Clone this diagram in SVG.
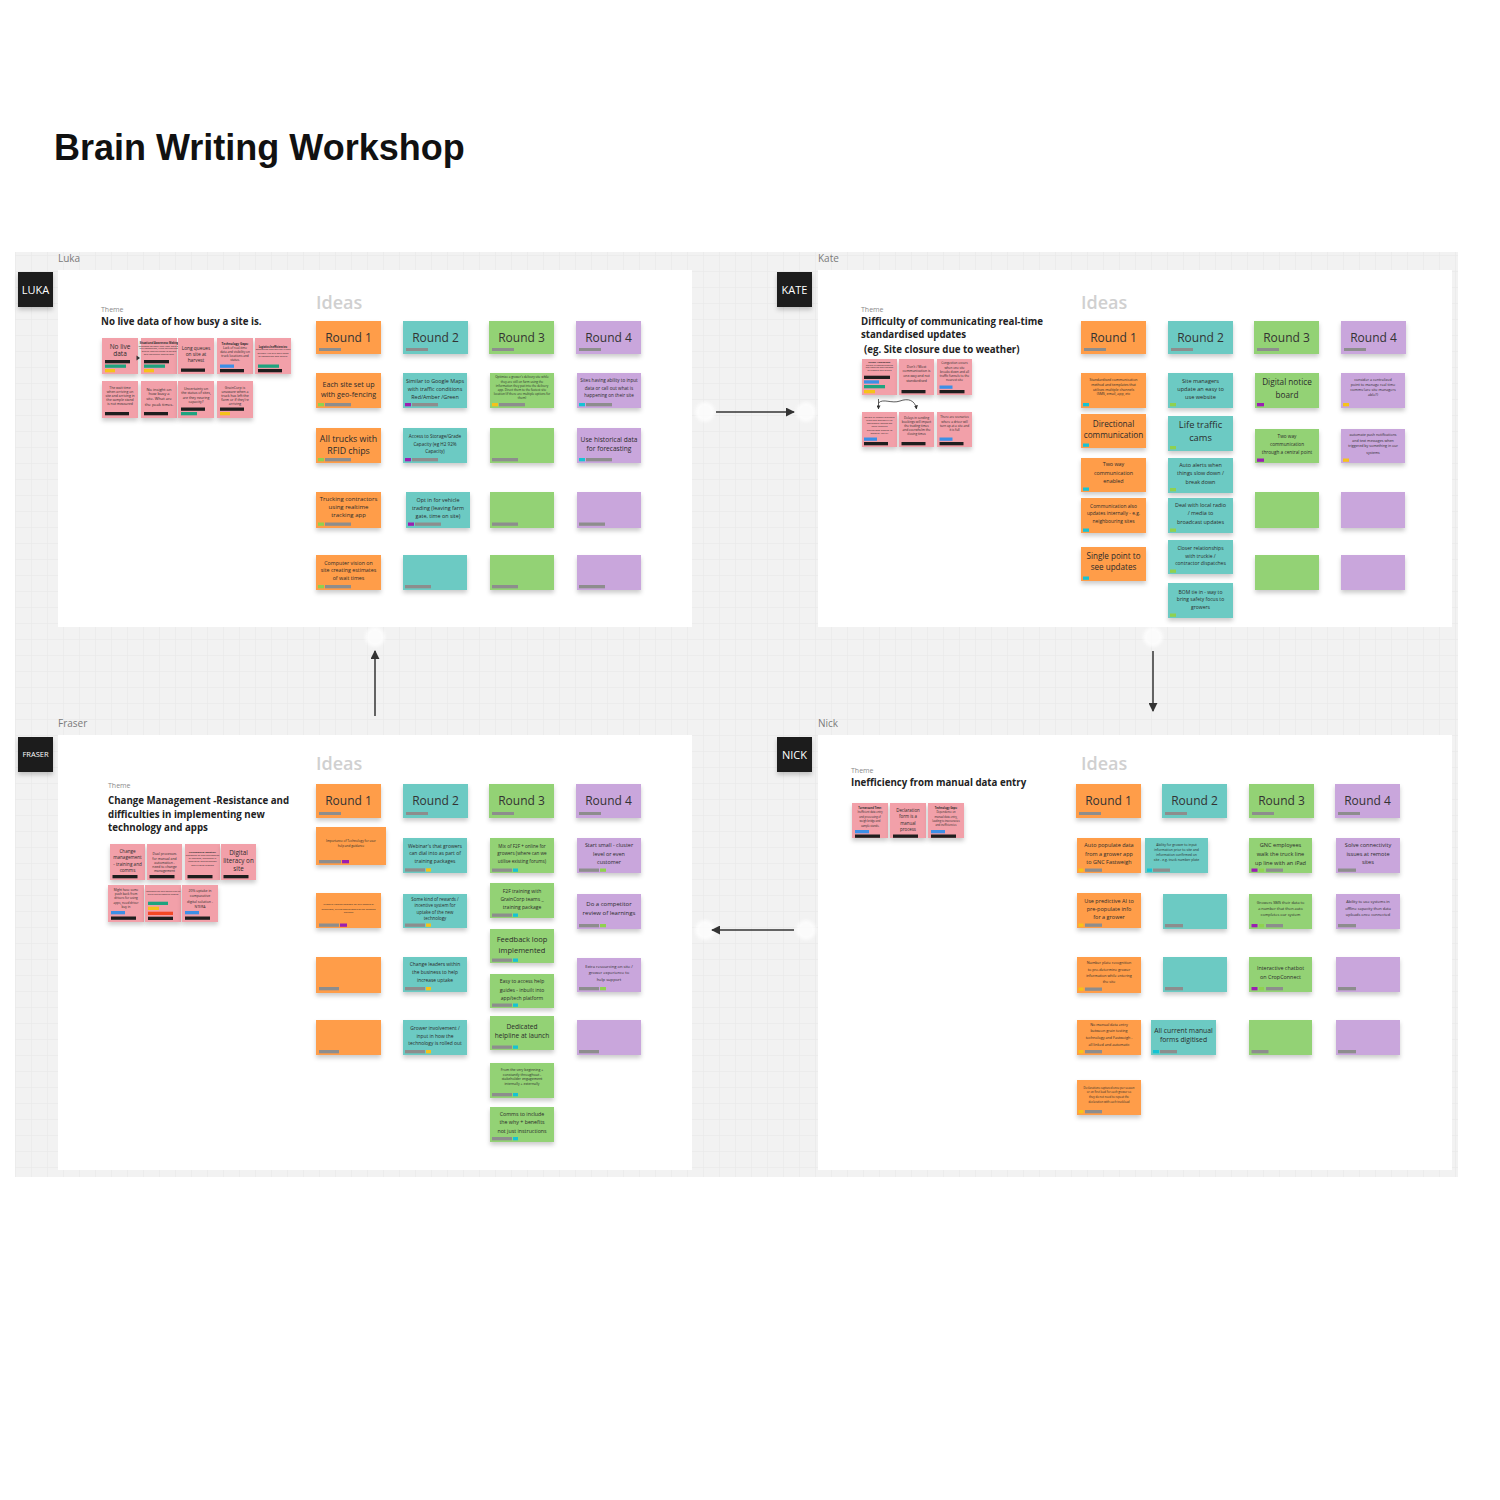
<svg xmlns="http://www.w3.org/2000/svg" width="1500" height="1500" viewBox="0 0 1500 1500">
<defs>
<style>
.fr{fill:#fff}
.s{filter:url(#sh)}
.o{fill:#ff9d48}.c{fill:#6ccac3}.g{fill:#93d275}.p{fill:#c9a6dc}.k{fill:#f2a0a9}
.t{font-family:"Open Sans","Liberation Sans",sans-serif;fill:#2b2b2b;text-anchor:middle}
.hd{font-size:12px;fill:#333}
.b{font-weight:bold}
.gb{fill:#8d8d8d}.bk{fill:#1e1e1e}.bl{fill:#3d8fe6}.gr{fill:#1fa37f}.ye{fill:#f6c21a}.pu{fill:#9b1fb1}.cy{fill:#16c3d3}.lg{fill:#8fd14f}.rd{fill:#f24726}
.lbl{font-family:"Open Sans","Liberation Sans",sans-serif;font-size:10px;fill:#7a7a7a}
.ideas{font-family:"Open Sans","Liberation Sans",sans-serif;font-size:18px;font-weight:600;fill:#d0d0d0}
.th{font-family:"Open Sans","Liberation Sans",sans-serif;font-size:7px;fill:#8a8a8a}
.tt{font-family:"Open Sans","Liberation Sans",sans-serif;font-size:9.7px;font-weight:bold;fill:#222}
.tag{fill:#1e1e1e}
.tagt{font-family:"Open Sans","Liberation Sans",sans-serif;fill:#fff;text-anchor:middle}
.cn{stroke:#333;stroke-width:1.5;fill:none}
.hc{fill:#fff;opacity:0.75;filter:url(#bl)}
</style>
<filter id="sh" x="-20%" y="-20%" width="140%" height="170%"><feDropShadow dx="0" dy="3" stdDeviation="2" flood-color="#000" flood-opacity="0.2"/></filter>
<filter id="bl" x="-50%" y="-50%" width="200%" height="200%"><feGaussianBlur stdDeviation="1.5"/></filter>
<marker id="ah" viewBox="0 0 10 10" refX="9" refY="5" markerWidth="6" markerHeight="6" orient="auto-start-reverse"><path d="M0,0 L10,5 L0,10 z" fill="#333"/></marker>
<marker id="ahs" viewBox="0 0 10 10" refX="9" refY="5" markerWidth="5" markerHeight="5" orient="auto"><path d="M0,0 L10,5 L0,10 z" fill="#333"/></marker>
<pattern id="grid" width="16" height="16" patternUnits="userSpaceOnUse"><path d="M16 0V16M0 16H16" stroke="#e7e7e7" stroke-width="1" fill="none"/></pattern>
</defs>
<rect width="1500" height="1500" fill="#fff"/>
<text x="54" y="160" font-family="Liberation Sans, Arial, sans-serif" font-weight="bold" font-size="36" fill="#111">Brain Writing Workshop</text>
<rect x="15" y="252" width="1443" height="925" fill="#f2f2f2"/>
<rect x="15" y="252" width="1443" height="925" fill="url(#grid)"/>

<!-- LUKA -->
<g id="luka">
<text class="lbl" x="58" y="262">Luka</text>
<rect class="fr" x="58" y="270" width="634" height="357"/>
<g id="luka-tag"><rect class="tag s" x="18" y="272" width="35" height="35"/><text class="tagt" x="35.5" y="293.5" font-size="11">LUKA</text></g>
<g id="luka-theme"><text class="th" x="101" y="312">Theme</text><text class="tt" x="101" y="325">No live data of how busy a site is.</text></g>
<g id="luka-p1"><rect class="k s" x="102" y="338" width="36" height="36"/><text class="t" font-size="6.5"><tspan x="120" y="349">No live</tspan><tspan x="120" y="356">data</tspan></text><rect class="bk" x="105" y="360" width="25" height="3.3"/><rect class="gr" x="105" y="364.5" width="21" height="3.3"/><rect class="ye" x="105" y="369" width="10" height="3.3"/></g>
<path d="M136.5,355.5 L140,358 L136.5,360.5z" fill="#333"/>
<g id="luka-p2"><rect class="k s" x="141" y="338" width="36" height="36"/><text class="t" font-size="2.5"><tspan class="b" x="159" y="343.5">Situational Awareness: Making</tspan><tspan x="159" y="346.5">decisions without real-time data on</tspan><tspan x="159" y="349.3">site congestion, truck arrivals and</tspan><tspan x="159" y="352">queue lengths leads to delays</tspan><tspan x="159" y="355">and inefficient operations.</tspan></text><rect class="bk" x="144" y="360" width="25" height="3.3"/><rect class="gr" x="144" y="364.5" width="21" height="3.3"/><rect class="ye" x="144" y="369" width="10" height="3.3"/></g>
<g id="luka-p3"><rect class="k s" x="178" y="338" width="36" height="36"/><text class="t" font-size="4.8"><tspan x="196" y="349.5">Long queues</tspan><tspan x="196" y="355.5">on site at</tspan><tspan x="196" y="361.5">harvest</tspan></text><rect class="bk" x="181" y="368.5" width="24" height="3.3"/></g>
<g id="luka-p4"><rect class="k s" x="217" y="338" width="36" height="36"/><text class="t" font-size="3.1"><tspan class="b" x="235" y="344.5">Technology Gaps:</tspan><tspan x="235" y="348.8">Lack of real-time</tspan><tspan x="235" y="352.8">data and visibility on</tspan><tspan x="235" y="357">truck locations and</tspan><tspan x="235" y="361">status.</tspan></text><rect class="bl" x="220" y="364.5" width="14" height="3.3"/><rect class="bk" x="220" y="369" width="24" height="3.3"/></g>
<g id="luka-p5"><rect class="k s" x="255" y="338" width="36" height="36"/><text class="t" font-size="2.5"><tspan class="b" x="273" y="347.5">Logistics Inefficiencies:</tspan><tspan x="273" y="350.3">Scheduling and routing trucks</tspan><tspan x="273" y="353.5">without live site data leads</tspan><tspan x="273" y="356.7">to congestion and delays.</tspan></text><rect class="gr" x="258" y="364.5" width="21" height="3.3"/><rect class="bk" x="258" y="369" width="24" height="3.3"/></g>
<g id="luka-q1"><rect class="k s" x="102" y="381" width="36" height="37"/><text class="t" font-size="3.4"><tspan x="120" y="389">The wait time</tspan><tspan x="120" y="393">when arriving on</tspan><tspan x="120" y="397.2">site and arriving in</tspan><tspan x="120" y="401.2">the sample stand</tspan><tspan x="120" y="405.2">is not measured</tspan></text><rect class="bk" x="105" y="412" width="24" height="3.3"/></g>
<g id="luka-q2"><rect class="k s" x="141" y="381" width="36" height="37"/><text class="t" font-size="4"><tspan x="159" y="390.7">No insight on</tspan><tspan x="159" y="395.4">how busy a</tspan><tspan x="159" y="400.4">site. What are</tspan><tspan x="159" y="405.7">the peak times.</tspan></text><rect class="bk" x="144" y="412" width="24" height="3.3"/></g>
<g id="luka-q3"><rect class="k s" x="178" y="381" width="36" height="37"/><text class="t" font-size="3.5"><tspan x="196" y="389.5">Uncertainty on</tspan><tspan x="196" y="394">the status of sites,</tspan><tspan x="196" y="398.5">are they nearing</tspan><tspan x="196" y="403">capacity?</tspan></text><rect class="bk" x="181" y="407.5" width="24" height="3.3"/><rect class="gr" x="181" y="412" width="16" height="3.3"/></g>
<g id="luka-q4"><rect class="k s" x="217" y="381" width="36" height="37"/><text class="t" font-size="3.5"><tspan x="235" y="388.5">GrainCorp is</tspan><tspan x="235" y="392.9">unaware when a</tspan><tspan x="235" y="396.9">truck has left the</tspan><tspan x="235" y="400.5">farm or if they're</tspan><tspan x="235" y="404.5">arriving</tspan></text><rect class="bk" x="220" y="407.5" width="24" height="3.3"/><rect class="ye" x="220" y="412" width="10" height="3.3"/></g>

<text class="ideas" x="316" y="309">Ideas</text>
<g id="luka-h1"><rect class="o s" x="316" y="321" width="65" height="33"/><text class="t hd" x="348.5" y="342">Round 1</text><rect class="gb" x="319" y="348" width="22" height="3"/></g>
<g id="luka-h2"><rect class="c s" x="403" y="321" width="65" height="33"/><text class="t hd" x="435.5" y="342">Round 2</text><rect class="gb" x="406" y="348" width="22" height="3"/></g>
<g id="luka-h3"><rect class="g s" x="489" y="321" width="65" height="33"/><text class="t hd" x="521.5" y="342">Round 3</text><rect class="gb" x="492" y="348" width="22" height="3"/></g>
<g id="luka-h4"><rect class="p s" x="576" y="321" width="65" height="33"/><text class="t hd" x="608.5" y="342">Round 4</text><rect class="gb" x="579" y="348" width="22" height="3"/></g>

<g id="luka-r1-1"><rect class="o s" x="316" y="373" width="65" height="35"/><text class="t" font-size="7.2"><tspan x="348.5" y="386.5">Each site set up</tspan><tspan x="348.5" y="396.5">with geo-fencing</tspan></text><rect class="lg" x="318" y="403" width="6" height="3.3"/><rect class="gb" x="325" y="403" width="26" height="3.3"/></g>
<g id="luka-r1-2"><rect class="o s" x="316" y="428" width="65" height="35"/><text class="t" font-size="8.8"><tspan x="348.5" y="441.5">All trucks with</tspan><tspan x="348.5" y="453.5">RFID chips</tspan></text><rect class="lg" x="318" y="458" width="6" height="3.3"/><rect class="gb" x="325" y="458" width="26" height="3.3"/></g>
<g id="luka-r1-3"><rect class="o s" x="316" y="492" width="65" height="36"/><text class="t" font-size="6"><tspan x="348.5" y="501.2">Trucking contractors</tspan><tspan x="348.5" y="509">using realtime</tspan><tspan x="348.5" y="517">tracking app</tspan></text><rect class="lg" x="318" y="522.5" width="6" height="3.3"/><rect class="gb" x="325" y="522.5" width="26" height="3.3"/></g>
<g id="luka-r1-4"><rect class="o s" x="316" y="555" width="65" height="35"/><text class="t" font-size="5.3"><tspan x="348.5" y="564.8">Computer vision on</tspan><tspan x="348.5" y="572.2">site creating estimates</tspan><tspan x="348.5" y="579.6">of wait times</tspan></text><rect class="lg" x="318" y="585" width="6" height="3.3"/><rect class="gb" x="325" y="585" width="26" height="3.3"/></g>

<g id="luka-r2-1"><rect class="c s" x="403" y="373" width="64" height="35"/><text class="t" font-size="5.4"><tspan x="435" y="382.8">Similar to Google Maps</tspan><tspan x="435" y="391">with traffic conditions</tspan><tspan x="435" y="398.8">Red/Amber /Green</tspan></text><rect class="pu" x="405" y="403" width="6" height="3.3"/><rect class="gb" x="412" y="403" width="26" height="3.3"/></g>
<g id="luka-r2-2"><rect class="c s" x="403" y="428" width="64" height="35"/><text class="t" font-size="4.6"><tspan x="435" y="438.3">Access to Storage/Grade</tspan><tspan x="435" y="445.9">Capacity (eg H2 92%</tspan><tspan x="435" y="453">Capacity)</tspan></text><rect class="pu" x="405" y="458" width="6" height="3.3"/><rect class="gb" x="412" y="458" width="26" height="3.3"/></g>
<g id="luka-r2-3"><rect class="c s" x="406" y="492" width="64" height="36"/><text class="t" font-size="5.4"><tspan x="438" y="502">Opt in for vehicle</tspan><tspan x="438" y="509.7">trading (leaving farm</tspan><tspan x="438" y="517.5">gate, time on site)</tspan></text><rect class="pu" x="408" y="522.5" width="6" height="3.3"/><rect class="gb" x="415" y="522.5" width="26" height="3.3"/></g>
<g id="luka-r2-4"><rect class="c s" x="403" y="555" width="64" height="35"/><rect class="gb" x="405" y="585" width="26" height="3.3"/></g>

<g id="luka-r3-1"><rect class="g s" x="490" y="373" width="64" height="35"/><text class="t" font-size="3"><tspan x="522" y="378.3">Optimize a grower's delivery site while</tspan><tspan x="522" y="382.5">they are still on farm using the</tspan><tspan x="522" y="386.7">information they put into the delivery</tspan><tspan x="522" y="390.9">app. Direct them to the fastest site</tspan><tspan x="522" y="395.1">location (if there are multiple options for</tspan><tspan x="522" y="399.3">them)</tspan></text><rect class="ye" x="492" y="403" width="6" height="3.3"/><rect class="gb" x="499" y="403" width="26" height="3.3"/></g>
<g id="luka-r3-2"><rect class="g s" x="490" y="428" width="64" height="35"/><rect class="gb" x="492" y="458" width="26" height="3.3"/></g>
<g id="luka-r3-3"><rect class="g s" x="490" y="492" width="64" height="36"/><rect class="gb" x="492" y="522.5" width="26" height="3.3"/></g>
<g id="luka-r3-4"><rect class="g s" x="490" y="555" width="64" height="35"/><rect class="gb" x="492" y="585" width="26" height="3.3"/></g>

<g id="luka-r4-1"><rect class="p s" x="577" y="373" width="64" height="35"/><text class="t" font-size="4.6"><tspan x="609" y="382.4">Sites having ability to input</tspan><tspan x="609" y="390">data or call out what is</tspan><tspan x="609" y="397.4">happening on their site</tspan></text><rect class="cy" x="579" y="403" width="6" height="3.3"/><rect class="gb" x="586" y="403" width="26" height="3.3"/></g>
<g id="luka-r4-2"><rect class="p s" x="577" y="428" width="64" height="35"/><text class="t" font-size="6.6"><tspan x="609" y="442.4">Use historical data</tspan><tspan x="609" y="450.7">for forecasting</tspan></text><rect class="cy" x="579" y="458" width="6" height="3.3"/><rect class="gb" x="586" y="458" width="26" height="3.3"/></g>
<g id="luka-r4-3"><rect class="p s" x="577" y="492" width="64" height="36"/><rect class="gb" x="579" y="522.5" width="26" height="3.3"/></g>
<g id="luka-r4-4"><rect class="p s" x="577" y="555" width="64" height="35"/><rect class="gb" x="579" y="585" width="26" height="3.3"/></g>
</g>

<!-- KATE -->
<g id="kate">
<text class="lbl" x="818" y="262">Kate</text>
<rect class="fr" x="818" y="270" width="634" height="357"/>
<g id="kate-tag"><rect class="tag s" x="777" y="272" width="35" height="35"/><text class="tagt" x="794.5" y="293.5" font-size="11">KATE</text></g>
<g id="kate-theme"><text class="th" x="861" y="312">Theme</text><text class="tt" x="861" y="324.5">Difficulty of communicating real-time</text><text class="tt" x="861" y="338">standardised updates</text><text class="tt" x="864" y="352.5">(eg. Site closure due to weather)</text></g>
<g id="kate-p1"><rect class="k s" x="862" y="359" width="35" height="36"/><text class="t" font-size="2.3"><tspan class="b" x="879.5" y="363">Sender Admissions:</tspan><tspan x="879.5" y="365.7">Delays in communicating</tspan><tspan x="879.5" y="368.4">site closures and changes</tspan><tspan x="879.5" y="371.4">to growers and drivers</tspan></text><rect class="bk" x="864" y="375.7" width="26" height="3.3"/><rect class="bl" x="864" y="380.3" width="15" height="3.3"/><rect class="gr" x="864" y="385" width="21" height="3.3"/><rect class="ye" x="864" y="390" width="11" height="3.3"/></g>
<g id="kate-p2"><rect class="k s" x="899" y="359" width="35" height="36"/><text class="t" font-size="3.4"><tspan x="916.5" y="368">Don't / Most</tspan><tspan x="916.5" y="372.2">communication is</tspan><tspan x="916.5" y="376.9">one-way and not</tspan><tspan x="916.5" y="382.2">standardised</tspan></text><rect class="bk" x="901.5" y="390" width="24" height="3.3"/></g>
<g id="kate-p3"><rect class="k s" x="937" y="359" width="35" height="36"/><text class="t" font-size="3.1"><tspan x="954.5" y="364.4">Congestion occurs</tspan><tspan x="954.5" y="368.6">when one site</tspan><tspan x="954.5" y="372.8">breaks down and all</tspan><tspan x="954.5" y="377">traffic funnels to the</tspan><tspan x="954.5" y="381.2">nearest site</tspan></text><rect class="bl" x="939.5" y="385.5" width="13" height="3.3"/><rect class="bk" x="939.5" y="390" width="25" height="3.3"/></g>
<g id="kate-p4"><rect class="k s" x="862" y="412" width="35" height="35"/><text class="t" font-size="2.5"><tspan x="879.5" y="417.5">Delays in finding alternate</tspan><tspan x="879.5" y="420.8">sites and availability of</tspan><tspan x="879.5" y="424.1">equipment means we</tspan><tspan x="879.5" y="427.4">have updated</tspan><tspan x="879.5" y="430.7">disruptions leading to</tspan><tspan x="879.5" y="434">loads or 'fee by'</tspan></text><rect class="bl" x="864" y="437.5" width="13" height="3.3"/><rect class="bk" x="864" y="442" width="24" height="3.3"/></g>
<g id="kate-p5"><rect class="k s" x="899" y="412" width="35" height="35"/><text class="t" font-size="3.1"><tspan x="916.5" y="419.4">Delays in sending</tspan><tspan x="916.5" y="423.2">bookings will impact</tspan><tspan x="916.5" y="427">the trading times</tspan><tspan x="916.5" y="430.8">and overwhelm the</tspan><tspan x="916.5" y="434.6">closing times</tspan></text><rect class="bk" x="901.5" y="442" width="24" height="3.3"/></g>
<g id="kate-p6"><rect class="k s" x="937" y="412" width="35" height="35"/><text class="t" font-size="3.1"><tspan x="954.5" y="418.4">There are scenarios</tspan><tspan x="954.5" y="422.7">where a driver will</tspan><tspan x="954.5" y="427">turn up at a site and</tspan><tspan x="954.5" y="431">it is full</tspan></text><rect class="bl" x="939.5" y="437.5" width="13" height="3.3"/><rect class="bk" x="939.5" y="442" width="24" height="3.3"/></g>
<path d="M878.5,399 V409" stroke="#333" stroke-width="0.8" fill="none" marker-end="url(#ahs)"/>
<path d="M878.5,403 C883,398 892,404 900,401 C908,398 915,400 916.5,409" stroke="#333" stroke-width="0.8" fill="none" marker-end="url(#ahs)"/>

<text class="ideas" x="1081" y="309">Ideas</text>
<g id="kate-h1"><rect class="o s" x="1081" y="321" width="65" height="33"/><text class="t hd" x="1113.5" y="342">Round 1</text><rect class="gb" x="1084" y="348" width="22" height="3"/></g>
<g id="kate-h2"><rect class="c s" x="1168" y="321" width="65" height="33"/><text class="t hd" x="1200.5" y="342">Round 2</text><rect class="gb" x="1171" y="348" width="22" height="3"/></g>
<g id="kate-h3"><rect class="g s" x="1254" y="321" width="65" height="33"/><text class="t hd" x="1286.5" y="342">Round 3</text><rect class="gb" x="1257" y="348" width="22" height="3"/></g>
<g id="kate-h4"><rect class="p s" x="1341" y="321" width="65" height="33"/><text class="t hd" x="1373.5" y="342">Round 4</text><rect class="gb" x="1344" y="348" width="22" height="3"/></g>

<g id="kate-r1-1"><rect class="o s" x="1081" y="373" width="65" height="35"/><text class="t" font-size="3.5"><tspan x="1113.5" y="381.2">Standardised communication</tspan><tspan x="1113.5" y="386.2">method and templates that</tspan><tspan x="1113.5" y="390.5">utilises multiple channels</tspan><tspan x="1113.5" y="395.2">(SMS, email, app, etc</tspan></text><rect class="cy" x="1083" y="403" width="6" height="3.3"/></g>
<g id="kate-r1-2"><rect class="o s" x="1081" y="414" width="65" height="34"/><text class="t" font-size="8.2"><tspan x="1113.5" y="427">Directional</tspan><tspan x="1113.5" y="438">communication</tspan></text><rect class="cy" x="1083" y="443.5" width="6" height="3.3"/></g>
<g id="kate-r1-3"><rect class="o s" x="1081" y="458" width="65" height="34"/><text class="t" font-size="5.4"><tspan x="1113.5" y="466">Two way</tspan><tspan x="1113.5" y="474.7">communication</tspan><tspan x="1113.5" y="483">enabled</tspan></text><rect class="cy" x="1083" y="487.5" width="6" height="3.3"/></g>
<g id="kate-r1-4"><rect class="o s" x="1081" y="498" width="65" height="35"/><text class="t" font-size="4.9"><tspan x="1113.5" y="507.8">Communication also</tspan><tspan x="1113.5" y="515.2">updates internally - e.g.</tspan><tspan x="1113.5" y="522.8">neighbouring sites</tspan></text><rect class="cy" x="1083" y="528.5" width="6" height="3.3"/></g>
<g id="kate-r1-5"><rect class="o s" x="1081" y="547" width="65" height="34"/><text class="t" font-size="8.1"><tspan x="1113.5" y="559">Single point to</tspan><tspan x="1113.5" y="570.3">see updates</tspan></text><rect class="cy" x="1083" y="576.5" width="6" height="3.3"/></g>

<g id="kate-r2-1"><rect class="c s" x="1168" y="373" width="65" height="35"/><text class="t" font-size="5.6"><tspan x="1200.5" y="382.7">Site managers</tspan><tspan x="1200.5" y="391">update an easy to</tspan><tspan x="1200.5" y="398.7">use website</tspan></text><rect class="lg" x="1170" y="403" width="6" height="3.3"/></g>
<g id="kate-r2-2"><rect class="c s" x="1168" y="416" width="65" height="35"/><text class="t" font-size="9.3"><tspan x="1200.5" y="427.5">Life traffic</tspan><tspan x="1200.5" y="441">cams</tspan></text><rect class="lg" x="1170" y="446" width="6" height="3.3"/></g>
<g id="kate-r2-3"><rect class="c s" x="1168" y="458" width="65" height="35"/><text class="t" font-size="5.4"><tspan x="1200.5" y="467">Auto alerts when</tspan><tspan x="1200.5" y="475.3">things slow down /</tspan><tspan x="1200.5" y="484">break down</tspan></text><rect class="lg" x="1170" y="488" width="6" height="3.3"/></g>
<g id="kate-r2-4"><rect class="c s" x="1168" y="498" width="65" height="35"/><text class="t" font-size="5.4"><tspan x="1200.5" y="507">Deal with local radio</tspan><tspan x="1200.5" y="515.3">/ media to</tspan><tspan x="1200.5" y="523.7">broadcast updates</tspan></text><rect class="lg" x="1170" y="528.5" width="6" height="3.3"/></g>
<g id="kate-r2-5"><rect class="c s" x="1168" y="540" width="65" height="34"/><text class="t" font-size="5"><tspan x="1200.5" y="549.5">Closer relationships</tspan><tspan x="1200.5" y="557.5">with truckie /</tspan><tspan x="1200.5" y="565">contractor dispatches</tspan></text><rect class="lg" x="1170" y="569.5" width="6" height="3.3"/></g>
<g id="kate-r2-6"><rect class="c s" x="1168" y="583" width="65" height="35"/><text class="t" font-size="5"><tspan x="1200.5" y="593.5">BOM tie in - way to</tspan><tspan x="1200.5" y="601">bring safety focus to</tspan><tspan x="1200.5" y="609">growers</tspan></text><rect class="lg" x="1170" y="613.5" width="6" height="3.3"/></g>

<g id="kate-r3-1"><rect class="g s" x="1255" y="373" width="64" height="35"/><text class="t" font-size="8.2"><tspan x="1287" y="384.7">Digital notice</tspan><tspan x="1287" y="398">board</tspan></text><rect class="pu" x="1257" y="403" width="7" height="3.3"/></g>
<g id="kate-r3-2"><rect class="g s" x="1255" y="429" width="64" height="34"/><text class="t" font-size="4.7"><tspan x="1287" y="437.8">Two way</tspan><tspan x="1287" y="446">communication</tspan><tspan x="1287" y="453.5">through a central point</tspan></text><rect class="pu" x="1257" y="458.5" width="7" height="3.3"/></g>
<g id="kate-r3-3"><rect class="g s" x="1255" y="492" width="64" height="36"/></g>
<g id="kate-r3-4"><rect class="g s" x="1255" y="555" width="64" height="35"/></g>

<g id="kate-r4-1"><rect class="p s" x="1341" y="373" width="64" height="35"/><text class="t" font-size="3.7"><tspan x="1373" y="380.6">consider a centralized</tspan><tspan x="1373" y="386.3">point to manage real time</tspan><tspan x="1373" y="391.3">comms (are site managers</tspan><tspan x="1373" y="396.3">able?)</tspan></text><rect class="ye" x="1343" y="403" width="6" height="3.3"/></g>
<g id="kate-r4-2"><rect class="p s" x="1341" y="429" width="64" height="34"/><text class="t" font-size="3.6"><tspan x="1373" y="436.3">automate push notifications</tspan><tspan x="1373" y="442">and text messages when</tspan><tspan x="1373" y="447.3">triggered by something in our</tspan><tspan x="1373" y="453.6">systems</tspan></text><rect class="ye" x="1343" y="458.5" width="6" height="3.3"/></g>
<g id="kate-r4-3"><rect class="p s" x="1341" y="492" width="64" height="36"/></g>
<g id="kate-r4-4"><rect class="p s" x="1341" y="555" width="64" height="35"/></g>
</g>

<!-- FRASER -->
<g id="fraser">
<text class="lbl" x="58" y="727">Fraser</text>
<rect class="fr" x="58" y="735" width="634" height="435"/>
<g id="fraser-tag"><rect class="tag s" x="18" y="737" width="35" height="35"/><text class="tagt" x="35.5" y="757" font-size="7.5">FRASER</text></g>
<g id="fraser-theme"><text class="th" x="108" y="788">Theme</text><text class="tt" x="108" y="803.5">Change Management -Resistance and</text><text class="tt" x="108" y="817.5">difficulties in implementing new</text><text class="tt" x="108" y="831">technology and apps</text></g>
<g id="fraser-p1"><rect class="k s" x="110" y="844" width="35" height="36"/><text class="t" font-size="4.6"><tspan x="127.5" y="852.7">Change</tspan><tspan x="127.5" y="858.5">management</tspan><tspan x="127.5" y="865.5">- training and</tspan><tspan x="127.5" y="871.6">comms</tspan></text><rect class="bk" x="112.5" y="875" width="25" height="3.3"/></g>
<g id="fraser-p2"><rect class="k s" x="147" y="844" width="35" height="36"/><text class="t" font-size="3.4"><tspan x="164.5" y="855.2">Dual processes</tspan><tspan x="164.5" y="859.5">for manual and</tspan><tspan x="164.5" y="863.5">automation -</tspan><tspan x="164.5" y="867.9">need to change</tspan><tspan x="164.5" y="872.2">management</tspan></text><rect class="bk" x="149.5" y="875" width="25" height="3.3"/></g>
<g id="fraser-p3"><rect class="k s" x="185" y="844" width="35" height="36"/><text class="t" font-size="2.3"><tspan class="b" x="202.5" y="853">Technological adoption:</tspan><tspan x="202.5" y="855.8">Resistance to new technologies</tspan><tspan x="202.5" y="859">or methods, challenges in</tspan><tspan x="202.5" y="862.4">integrating new technology</tspan><tspan x="202.5" y="865.7">with existing systems</tspan></text><rect class="bk" x="187.5" y="875" width="25" height="3.3"/></g>
<g id="fraser-p4"><rect class="k s" x="221" y="844" width="35" height="36"/><text class="t" font-size="6.3"><tspan x="238.5" y="854.5">Digital</tspan><tspan x="238.5" y="863">literacy on</tspan><tspan x="238.5" y="871.3">site</tspan></text><rect class="bk" x="223.5" y="875" width="25" height="3.3"/></g>
<g id="fraser-q1"><rect class="k s" x="108" y="885" width="36" height="37"/><text class="t" font-size="3.1"><tspan x="126" y="891">Might have some</tspan><tspan x="126" y="895">push back from</tspan><tspan x="126" y="899.3">drivers for using</tspan><tspan x="126" y="903.7">apps, need driver</tspan><tspan x="126" y="908.3">buy in</tspan></text><rect class="bl" x="111" y="911" width="14" height="3.3"/><rect class="bk" x="111" y="916.5" width="25" height="3.3"/></g>
<g id="fraser-q2"><rect class="k s" x="145" y="885" width="36" height="37"/><text class="t" font-size="2.2"><tspan x="163" y="892.4">Implementing data points such as</tspan><tspan x="163" y="895">digital and automated records</tspan></text><rect class="gr" x="148" y="901.7" width="20" height="3.3"/><rect class="ye" x="148" y="906.7" width="11" height="3.3"/><rect class="rd" x="148" y="911.7" width="25" height="3.3"/><rect class="bk" x="148" y="916.7" width="25" height="3.3"/></g>
<g id="fraser-q3"><rect class="k s" x="182" y="885" width="36" height="37"/><text class="t" font-size="3.5"><tspan x="200" y="892">20% uptake in</tspan><tspan x="200" y="897">comparative</tspan><tspan x="200" y="903">digital solution -</tspan><tspan x="200" y="908">NTERA</tspan></text><rect class="bl" x="185" y="911" width="14" height="3.3"/><rect class="bk" x="185" y="916.5" width="25" height="3.3"/></g>

<text class="ideas" x="316" y="770">Ideas</text>
<g id="fraser-h1"><rect class="o s" x="316" y="784" width="65" height="34"/><text class="t hd" x="348.5" y="805">Round 1</text><rect class="gb" x="319" y="812" width="22" height="3"/></g>
<g id="fraser-h2"><rect class="c s" x="403" y="784" width="65" height="34"/><text class="t hd" x="435.5" y="805">Round 2</text><rect class="gb" x="406" y="812" width="22" height="3"/></g>
<g id="fraser-h3"><rect class="g s" x="489" y="784" width="65" height="34"/><text class="t hd" x="521.5" y="805">Round 3</text><rect class="gb" x="492" y="812" width="22" height="3"/></g>
<g id="fraser-h4"><rect class="p s" x="576" y="784" width="65" height="34"/><text class="t hd" x="608.5" y="805">Round 4</text><rect class="gb" x="579" y="812" width="22" height="3"/></g>

<g id="fraser-r1-1"><rect class="o s" x="316" y="827" width="70" height="38"/><text class="t" font-size="3.1"><tspan x="351" y="842">Importance of Technology for user</tspan><tspan x="351" y="846.7">help and guidance</tspan></text><rect class="gb" x="319" y="860" width="22" height="3.3"/><rect class="pu" x="342" y="860" width="7" height="3.3"/></g>
<g id="fraser-r1-2"><rect class="o s" x="316" y="893" width="65" height="35"/><text class="t" font-size="2.5"><tspan x="348.5" y="905.2">In depth training package for site leaders at</tspan><tspan x="348.5" y="909.6">GrainCorp, critical operations staff on demand</tspan><tspan x="348.5" y="913.4">learning</tspan></text><rect class="gb" x="319" y="923.5" width="20" height="3.3"/><rect class="pu" x="340" y="923.5" width="7" height="3.3"/></g>
<g id="fraser-r1-3"><rect class="o s" x="316" y="957" width="65" height="36"/><rect class="gb" x="319" y="987" width="20" height="3.3"/></g>
<g id="fraser-r1-4"><rect class="o s" x="316" y="1020" width="65" height="35"/><rect class="gb" x="319" y="1050" width="20" height="3.3"/></g>

<g id="fraser-r2-1"><rect class="c s" x="403" y="838" width="64" height="35"/><text class="t" font-size="5"><tspan x="435" y="847.5">Webinar's that growers</tspan><tspan x="435" y="855">can dial into as part of</tspan><tspan x="435" y="862.5">training packages</tspan></text><rect class="gb" x="405" y="868.3" width="20" height="3.3"/><rect class="ye" x="426" y="868.3" width="5" height="3.3"/></g>
<g id="fraser-r2-2"><rect class="c s" x="403" y="894" width="64" height="34"/><text class="t" font-size="4.4"><tspan x="435" y="900.6">Some kind of rewards /</tspan><tspan x="435" y="907">incentive system for</tspan><tspan x="435" y="913.5">uptake of the new</tspan><tspan x="435" y="919.8">technology</tspan></text><rect class="gb" x="405" y="923.5" width="20" height="3.3"/><rect class="ye" x="426" y="923.5" width="5" height="3.3"/></g>
<g id="fraser-r2-3"><rect class="c s" x="403" y="957" width="64" height="35"/><text class="t" font-size="4.9"><tspan x="435" y="966">Change leaders within</tspan><tspan x="435" y="974">the business to help</tspan><tspan x="435" y="981.7">increase uptake</tspan></text><rect class="gb" x="405" y="987" width="20" height="3.3"/><rect class="ye" x="426" y="987" width="5" height="3.3"/></g>
<g id="fraser-r2-4"><rect class="c s" x="403" y="1020" width="64" height="35"/><text class="t" font-size="4.9"><tspan x="435" y="1029.5">Grower involvement /</tspan><tspan x="435" y="1037.5">input in how the</tspan><tspan x="435" y="1044.5">technology is rolled out</tspan></text><rect class="gb" x="405" y="1050" width="20" height="3.3"/><rect class="ye" x="426" y="1050" width="5" height="3.3"/></g>

<g id="fraser-r3-1"><rect class="g s" x="490" y="838" width="64" height="35"/><text class="t" font-size="4.6"><tspan x="522" y="847.5">Mix of F2F + online for</tspan><tspan x="522" y="855">growers (where can we</tspan><tspan x="522" y="862.7">utilise existing forums)</tspan></text><rect class="gb" x="492" y="868.5" width="20" height="3.3"/><rect class="cy" x="513" y="868.5" width="5" height="3.3"/></g>
<g id="fraser-r3-2"><rect class="g s" x="490" y="883" width="64" height="35"/><text class="t" font-size="5"><tspan x="522" y="892.5">F2F training with</tspan><tspan x="522" y="900.8">GrainCorp teams _</tspan><tspan x="522" y="909">training package</tspan></text><rect class="gb" x="492" y="913.5" width="20" height="3.3"/><rect class="cy" x="513" y="913.5" width="5" height="3.3"/></g>
<g id="fraser-r3-3"><rect class="g s" x="490" y="929" width="64" height="34"/><text class="t" font-size="7.5"><tspan x="522" y="942">Feedback loop</tspan><tspan x="522" y="952.7">implemented</tspan></text><rect class="gb" x="492" y="958.5" width="20" height="3.3"/><rect class="cy" x="513" y="958.5" width="5" height="3.3"/></g>
<g id="fraser-r3-4"><rect class="g s" x="490" y="974" width="64" height="34"/><text class="t" font-size="5"><tspan x="522" y="983">Easy to access help</tspan><tspan x="522" y="991.5">guides - inbuilt into</tspan><tspan x="522" y="1000">app/tech platform</tspan></text><rect class="gb" x="492" y="1003.5" width="20" height="3.3"/><rect class="cy" x="513" y="1003.5" width="5" height="3.3"/></g>
<g id="fraser-r3-5"><rect class="g s" x="490" y="1016" width="64" height="34"/><text class="t" font-size="6.6"><tspan x="522" y="1028.5">Dedicated</tspan><tspan x="522" y="1038">helpline at launch</tspan></text><rect class="gb" x="492" y="1045.5" width="20" height="3.3"/><rect class="cy" x="513" y="1045.5" width="5" height="3.3"/></g>
<g id="fraser-r3-6"><rect class="g s" x="490" y="1063" width="64" height="35"/><text class="t" font-size="3.5"><tspan x="522" y="1070.6">From the very beginning +</tspan><tspan x="522" y="1075.6">constantly throughout -</tspan><tspan x="522" y="1080.3">stakeholder engagement</tspan><tspan x="522" y="1085.3">internally + externally</tspan></text><rect class="gb" x="492" y="1093" width="20" height="3.3"/><rect class="cy" x="513" y="1093" width="5" height="3.3"/></g>
<g id="fraser-r3-7"><rect class="g s" x="490" y="1107" width="64" height="35"/><text class="t" font-size="5.3"><tspan x="522" y="1116">Comms to include</tspan><tspan x="522" y="1124.3">the why + benefits</tspan><tspan x="522" y="1132.7">not just instructions</tspan></text><rect class="gb" x="492" y="1137" width="20" height="3.3"/><rect class="cy" x="513" y="1137" width="5" height="3.3"/></g>

<g id="fraser-r4-1"><rect class="p s" x="577" y="838" width="64" height="35"/><text class="t" font-size="5.4"><tspan x="609" y="847">Start small - cluster</tspan><tspan x="609" y="856">level or even</tspan><tspan x="609" y="863.7">customer</tspan></text><rect class="gb" x="579" y="868.5" width="20" height="3.3"/><rect class="lg" x="600" y="868.5" width="6" height="3.3"/></g>
<g id="fraser-r4-2"><rect class="p s" x="577" y="894" width="64" height="35"/><text class="t" font-size="6"><tspan x="609" y="906">Do a competitor</tspan><tspan x="609" y="914.7">review of learnings</tspan></text><rect class="gb" x="579" y="924" width="20" height="3.3"/><rect class="lg" x="600" y="924" width="6" height="3.3"/></g>
<g id="fraser-r4-3"><rect class="p s" x="577" y="958" width="64" height="34"/><text class="t" font-size="4.1"><tspan x="609" y="967.5">Extra resourcing on site /</tspan><tspan x="609" y="974">grower experience to</tspan><tspan x="609" y="980.5">help support</tspan></text><rect class="gb" x="579" y="987" width="20" height="3.3"/><rect class="lg" x="600" y="987" width="6" height="3.3"/></g>
<g id="fraser-r4-4"><rect class="p s" x="577" y="1020" width="64" height="35"/><rect class="gb" x="579" y="1050" width="20" height="3.3"/></g>
</g>

<!-- NICK -->
<g id="nick">
<text class="lbl" x="818" y="727">Nick</text>
<rect class="fr" x="818" y="735" width="634" height="435"/>
<g id="nick-tag"><rect class="tag s" x="777" y="737" width="35" height="35"/><text class="tagt" x="794.5" y="758.5" font-size="11">NICK</text></g>
<g id="nick-theme"><text class="th" x="851" y="773">Theme</text><text class="tt" x="851" y="786">Inefficiency from manual data entry</text></g>
<g id="nick-p1"><rect class="k s" x="852" y="803" width="36" height="35"/><text class="t" font-size="2.6"><tspan class="b" x="870" y="809.2">Turnaround Time:</tspan><tspan x="870" y="813.2">Inefficient data entry</tspan><tspan x="870" y="817.6">and processing of</tspan><tspan x="870" y="821.9">weigh bridge and</tspan><tspan x="870" y="826.6">sample stands.</tspan></text><rect class="bl" x="855" y="830" width="14" height="3.3"/><rect class="bk" x="855" y="834.5" width="25" height="3.3"/></g>
<g id="nick-p2"><rect class="k s" x="890" y="803" width="36" height="35"/><text class="t" font-size="4.4"><tspan x="908" y="811.5">Declaration</tspan><tspan x="908" y="818.2">form is a</tspan><tspan x="908" y="824.8">manual</tspan><tspan x="908" y="830.8">process</tspan></text><rect class="bk" x="893" y="834.5" width="25" height="3.3"/></g>
<g id="nick-p3"><rect class="k s" x="928" y="803" width="36" height="35"/><text class="t" font-size="2.6"><tspan class="b" x="946" y="809.2">Technology Gaps:</tspan><tspan x="946" y="813.2">Dependence on</tspan><tspan x="946" y="817.6">manual data entry,</tspan><tspan x="946" y="821.9">leading to inaccuracies</tspan><tspan x="946" y="826.2">and inefficiencies</tspan></text><rect class="bl" x="931" y="830" width="14" height="3.3"/><rect class="bk" x="931" y="834.5" width="25" height="3.3"/></g>

<text class="ideas" x="1081" y="770">Ideas</text>
<g id="nick-h1"><rect class="o s" x="1076" y="784" width="65" height="34"/><text class="t hd" x="1108.5" y="805">Round 1</text><rect class="gb" x="1079" y="812" width="22" height="3"/></g>
<g id="nick-h2"><rect class="c s" x="1162" y="784" width="65" height="34"/><text class="t hd" x="1194.5" y="805">Round 2</text><rect class="gb" x="1165" y="812" width="22" height="3"/></g>
<g id="nick-h3"><rect class="g s" x="1249" y="784" width="65" height="34"/><text class="t hd" x="1281.5" y="805">Round 3</text><rect class="gb" x="1252" y="812" width="22" height="3"/></g>
<g id="nick-h4"><rect class="p s" x="1335" y="784" width="65" height="34"/><text class="t hd" x="1367.5" y="805">Round 4</text><rect class="gb" x="1338" y="812" width="22" height="3"/></g>

<g id="nick-r1-1"><rect class="o s" x="1077" y="838" width="64" height="35"/><text class="t" font-size="5.5"><tspan x="1109" y="847">Auto populate data</tspan><tspan x="1109" y="856">from a grower app</tspan><tspan x="1109" y="863.7">to GNC Fastweigh</tspan></text><rect class="ye" x="1078.5" y="868.5" width="5" height="3.3"/><rect class="gb" x="1085" y="868.5" width="17" height="3.3"/></g>
<g id="nick-r1-2"><rect class="o s" x="1077" y="893" width="64" height="35"/><text class="t" font-size="5.5"><tspan x="1109" y="902.7">Use predictive AI to</tspan><tspan x="1109" y="911">pre-populate info</tspan><tspan x="1109" y="919.3">for a grower</tspan></text><rect class="ye" x="1078.5" y="923.5" width="5" height="3.3"/><rect class="gb" x="1085" y="923.5" width="17" height="3.3"/></g>
<g id="nick-r1-3"><rect class="o s" x="1077" y="957" width="64" height="36"/><text class="t" font-size="3.7"><tspan x="1109" y="964">Number plate recognition</tspan><tspan x="1109" y="970.7">to pre-determine grower</tspan><tspan x="1109" y="977">information while entering</tspan><tspan x="1109" y="983">the site</tspan></text><rect class="ye" x="1078.5" y="987.5" width="5" height="3.3"/><rect class="gb" x="1085" y="987.5" width="17" height="3.3"/></g>
<g id="nick-r1-4"><rect class="o s" x="1077" y="1020" width="64" height="35"/><text class="t" font-size="3.7"><tspan x="1109" y="1026.3">No manual data entry</tspan><tspan x="1109" y="1032.3">between grain testing</tspan><tspan x="1109" y="1039">technology and Fastweigh -</tspan><tspan x="1109" y="1045.6">all linked and automatic</tspan></text><rect class="ye" x="1078.5" y="1050" width="5" height="3.3"/><rect class="gb" x="1085" y="1050" width="17" height="3.3"/></g>
<g id="nick-r1-5"><rect class="o s" x="1077" y="1080" width="64" height="35"/><text class="t" font-size="2.8"><tspan x="1109" y="1088.7">Declarations captured once per season</tspan><tspan x="1109" y="1093.3">or on first load for each grower so</tspan><tspan x="1109" y="1098.3">they do not need to repeat the</tspan><tspan x="1109" y="1103.3">declaration with each truckload</tspan></text><rect class="ye" x="1078.5" y="1110" width="5" height="3.3"/><rect class="gb" x="1085" y="1110" width="17" height="3.3"/></g>

<g id="nick-r2-1"><rect class="c s" x="1145" y="838" width="63" height="35"/><text class="t" font-size="3.4"><tspan x="1176.5" y="846.2">Ability for grower to input</tspan><tspan x="1176.5" y="851.2">information prior to site and</tspan><tspan x="1176.5" y="856.2">information confirmed on</tspan><tspan x="1176.5" y="861.2">site - e.g. truck number plate</tspan></text><rect class="cy" x="1147" y="868.5" width="5" height="3.3"/><rect class="gb" x="1153" y="868.5" width="17" height="3.3"/></g>
<g id="nick-r2-2"><rect class="c s" x="1163" y="894" width="64" height="35"/><rect class="gb" x="1165" y="924" width="18" height="3.3"/></g>
<g id="nick-r2-3"><rect class="c s" x="1163" y="957" width="64" height="35"/><rect class="gb" x="1165" y="987" width="18" height="3.3"/></g>
<g id="nick-r2-4"><rect class="c s" x="1151" y="1020" width="65" height="35"/><text class="t" font-size="6.8"><tspan x="1183.5" y="1033">All current manual</tspan><tspan x="1183.5" y="1041.7">forms digitised</tspan></text><rect class="cy" x="1153" y="1050" width="6" height="3.3"/><rect class="gb" x="1160" y="1050" width="17" height="3.3"/></g>

<g id="nick-r3-1"><rect class="g s" x="1249" y="838" width="63" height="35"/><text class="t" font-size="5.6"><tspan x="1280.5" y="847">GNC employees</tspan><tspan x="1280.5" y="856">walk the truck line</tspan><tspan x="1280.5" y="864.5">up line with an iPad</tspan></text><rect class="pu" x="1251.5" y="868.5" width="6" height="3.3"/><rect class="lg" x="1259" y="868.5" width="5" height="3.3"/><rect class="gb" x="1266" y="868.5" width="17" height="3.3"/></g>
<g id="nick-r3-2"><rect class="g s" x="1249" y="894" width="63" height="35"/><text class="t" font-size="3.9"><tspan x="1280.5" y="903.7">Growers SMS their data to</tspan><tspan x="1280.5" y="910.4">a number that then auto</tspan><tspan x="1280.5" y="916.4">completes our system</tspan></text><rect class="pu" x="1251.5" y="924" width="6" height="3.3"/><rect class="lg" x="1259" y="924" width="5" height="3.3"/><rect class="gb" x="1266" y="924" width="17" height="3.3"/></g>
<g id="nick-r3-3"><rect class="g s" x="1249" y="957" width="63" height="35"/><text class="t" font-size="5.4"><tspan x="1280.5" y="970">Interactive chatbot</tspan><tspan x="1280.5" y="978.5">on CropConnect</tspan></text><rect class="pu" x="1251.5" y="987" width="6" height="3.3"/><rect class="lg" x="1259" y="987" width="5" height="3.3"/><rect class="gb" x="1266" y="987" width="17" height="3.3"/></g>
<g id="nick-r3-4"><rect class="g s" x="1249" y="1020" width="63" height="35"/><rect class="gb" x="1251.5" y="1050" width="17" height="3.3"/></g>

<g id="nick-r4-1"><rect class="p s" x="1336" y="838" width="64" height="35"/><text class="t" font-size="5.6"><tspan x="1368" y="847">Solve connectivity</tspan><tspan x="1368" y="856">issues at remote</tspan><tspan x="1368" y="863.7">sites</tspan></text><rect class="gb" x="1338" y="868.5" width="18" height="3.3"/></g>
<g id="nick-r4-2"><rect class="p s" x="1336" y="894" width="64" height="35"/><text class="t" font-size="3.9"><tspan x="1368" y="903">Ability to use systems in</tspan><tspan x="1368" y="909.7">offline capacity then data</tspan><tspan x="1368" y="916.4">uploads once connected</tspan></text><rect class="gb" x="1338" y="924" width="18" height="3.3"/></g>
<g id="nick-r4-3"><rect class="p s" x="1336" y="957" width="64" height="35"/><rect class="gb" x="1338" y="987" width="18" height="3.3"/></g>
<g id="nick-r4-4"><rect class="p s" x="1336" y="1020" width="64" height="35"/><rect class="gb" x="1338" y="1050" width="18" height="3.3"/></g>
</g>

<!-- connectors -->
<g id="connectors">
<circle class="hc" cx="705" cy="412" r="10"/><circle class="hc" cx="806" cy="412" r="10"/>
<circle class="hc" cx="1153" cy="637" r="10"/><circle class="hc" cx="375" cy="637" r="10"/>
<circle class="hc" cx="705" cy="930" r="10"/><circle class="hc" cx="806" cy="930" r="10"/>
<path class="cn" d="M716,412 H794" marker-end="url(#ah)"/>
<path class="cn" d="M1153,651 V711" marker-end="url(#ah)"/>
<path class="cn" d="M794,930 H712" marker-end="url(#ah)"/>
<path class="cn" d="M375,716 V651" marker-end="url(#ah)"/>
</g>
</svg>
